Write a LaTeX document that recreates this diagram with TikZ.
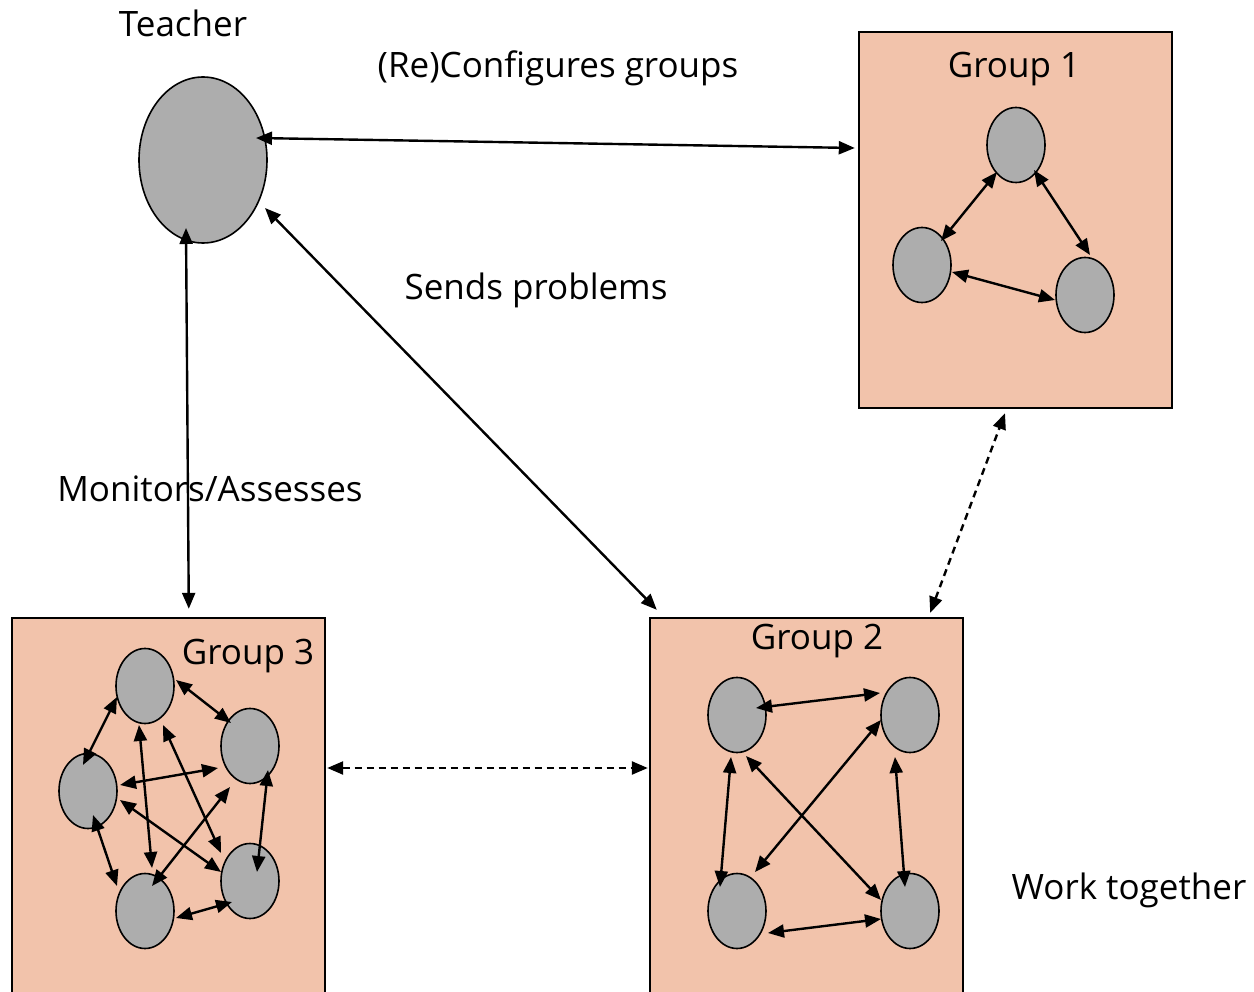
\documentclass[tikz,border=0pt]{standalone}
\usepackage{fontspec}
\setmainfont{Open Sans}
\usetikzlibrary{arrows.meta,shapes.geometric}
\definecolor{boxfill}{HTML}{F2C3AB}
\definecolor{personfill}{HTML}{ADADAD}
\tikzset{
  person/.style={ellipse,draw=black,line width=1.6pt,fill=personfill,
    minimum width=58pt,minimum height=75pt,inner sep=0pt},
  teacher/.style={person,minimum width=128pt,minimum height=166pt},
  groupbox/.style={rectangle,fill=boxfill,minimum width=313pt,inner sep=0pt},
  boxline/.style={draw=black,line width=1.6pt},
  label/.style={font=\fontsize{35}{42}\selectfont,text height=25pt,
    text depth=0pt,inner sep=0pt},
  biarrow/.style={line width=2.4pt,{Triangle[length=16pt,width=13pt]}-{Triangle[length=16pt,width=13pt]}},
  dashlink/.style={biarrow,dash pattern=on 7pt off 5pt}
}
\begin{document}
\begin{tikzpicture}[x=1pt,y=-1pt]
\useasboundingbox (0,0) rectangle (1254,992);
\fill[white] (0,0) rectangle (1254,992);

% group boxes
\node[groupbox,minimum height=376pt] (g1) at (1015.5,220) {};
\draw[boxline] (g1.south west) rectangle (g1.north east);
\node[groupbox,minimum height=374pt] (g2) at (806.5,805) {};
\draw[boxline] (g2.south west) |- (g2.north east) -- (g2.south east);
\node[groupbox,minimum height=374pt] (g3) at (168.5,805) {};
\draw[boxline] (g3.south west) |- (g3.north east) -- (g3.south east);

% labels
\node[label] (tlab) at (183,24.5) {Teacher};
\node[label] (cfg) at (558,65) {(Re)Configures groups};
\node[label] (snd) at (536,287) {Sends problems};
\node[label] (mon) at (210,489) {Monitors/Assesses};
\node[label] (g1lab) at (1014,65) {Group 1};
\node[label] (g2lab) at (817,637) {Group 2};
\node[label] (g3lab) at (248,652) {Group 3};
\node[label] (work) at (1129,887) {Work together};

% teacher
\node[teacher] (T) at (203,160) {};

% group 1 members
\node[person] (a1) at (1016,145) {};
\node[person] (b1) at (922,265) {};
\node[person] (c1) at (1085,295) {};

% group 2 members
\node[person] (a2) at (737,715) {};
\node[person] (b2) at (910,715) {};
\node[person] (c2) at (737,911) {};
\node[person] (d2) at (910,911) {};

% group 3 members
\node[person] (a3) at (145,686) {};
\node[person] (b3) at (250,746) {};
\node[person] (c3) at (88,791) {};
\node[person] (d3) at (145,911) {};
\node[person] (e3) at (250,881) {};

% teacher links
\draw[biarrow] ([shift={(53,-22)}]T.center) -- ([shift={(-4,-72)}]g1.west);
\draw[biarrow] ([shift={(62,48)}]T.center) -- ([shift={(7,-8)}]g2.north west);
\draw[biarrow] ([shift={(-17,68)}]T.center) -- ([shift={(177,-9)}]g3.north west);

% links between groups
\draw[dashlink] ([shift={(2,-37)}]g3.east) -- ([shift={(-2,-37)}]g2.west);
\draw[dashlink] ([shift={(-33,-5)}]g2.north east) -- ([shift={(-10.5,5)}]g1.south);

% group 1 links
\draw[biarrow] ([shift={(-19,27)}]a1.center) -- ([shift={(19,-24)}]b1.center);
\draw[biarrow] ([shift={(18,25)}]a1.center) -- ([shift={(5,-40)}]c1.center);
\draw[biarrow] ([shift={(30,7)}]b1.center) -- ([shift={(-30,5)}]c1.center);

% group 2 links
\draw[biarrow] ([shift={(19,-7)}]a2.center) -- ([shift={(-30,-22)}]b2.center);
\draw[biarrow] ([shift={(-6,42)}]a2.center) -- ([shift={(-17,-24)}]c2.center);
\draw[biarrow] ([shift={(9,41)}]a2.center) -- ([shift={(-29,-11)}]d2.center);
\draw[biarrow] ([shift={(-29,5)}]b2.center) -- ([shift={(18,-39)}]c2.center);
\draw[biarrow] ([shift={(-15,42)}]b2.center) -- ([shift={(-5,-24)}]d2.center);
\draw[biarrow] ([shift={(31,22)}]c2.center) -- ([shift={(-29,8)}]d2.center);

% group 3 links
\draw[biarrow] ([shift={(-28,11)}]a3.center) -- ([shift={(-5,-26)}]c3.center);
\draw[biarrow] ([shift={(31,-6)}]a3.center) -- ([shift={(-19,-23)}]b3.center);
\draw[biarrow] ([shift={(-6,39)}]a3.center) -- ([shift={(7,-43)}]d3.center);
\draw[biarrow] ([shift={(18,39)}]a3.center) -- ([shift={(-29,-28)}]e3.center);
\draw[biarrow] ([shift={(32,-6)}]c3.center) -- ([shift={(-32,22)}]b3.center);
\draw[biarrow] ([shift={(32,9)}]c3.center) -- ([shift={(-29,-9)}]e3.center);
\draw[biarrow] ([shift={(5,24)}]c3.center) -- ([shift={(-28,-25)}]d3.center);
\draw[biarrow] ([shift={(7,-25)}]d3.center) -- ([shift={(-20,41)}]b3.center);
\draw[biarrow] ([shift={(18,24)}]b3.center) -- ([shift={(7,-9)}]e3.center);
\draw[biarrow] ([shift={(31,7)}]d3.center) -- ([shift={(-18,21)}]e3.center);
\end{tikzpicture}
\end{document}
